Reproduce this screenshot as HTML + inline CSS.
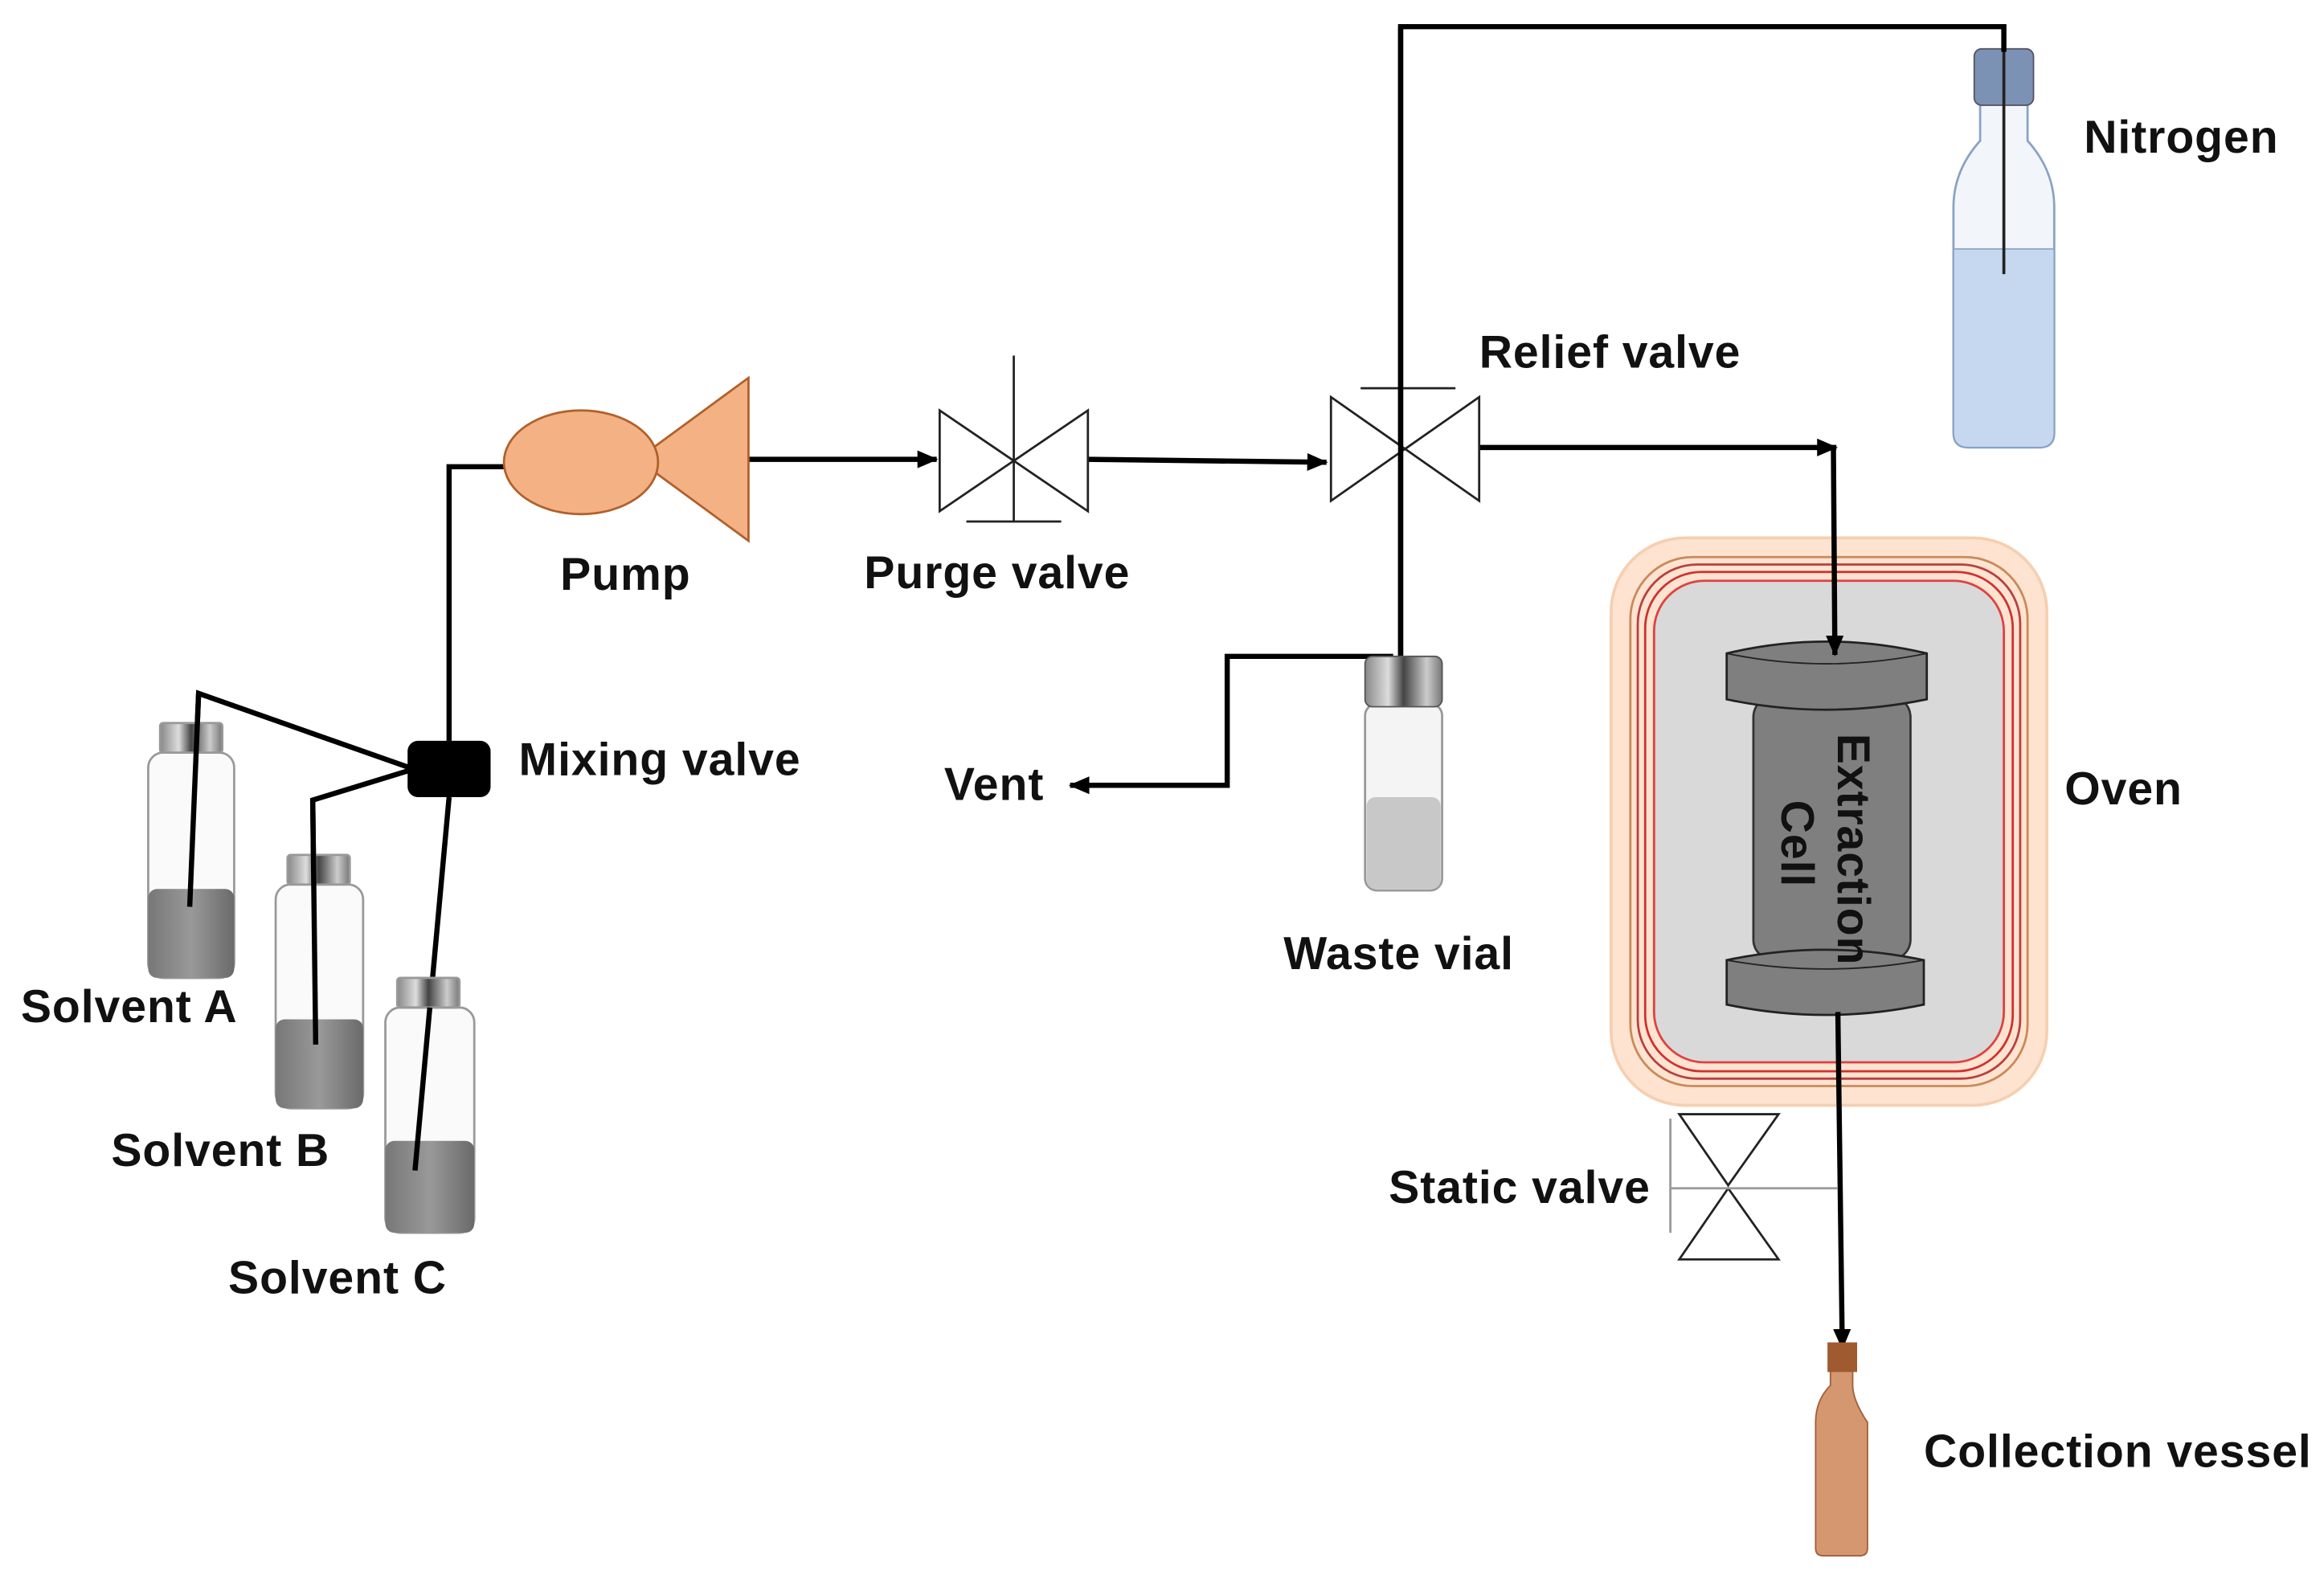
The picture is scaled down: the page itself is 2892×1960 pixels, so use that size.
<!DOCTYPE html>
<html><head><meta charset="utf-8"><style>
html,body{margin:0;padding:0;background:#fff}
svg{display:block}
text{font-family:"Liberation Sans",sans-serif;font-weight:bold;font-size:31px;letter-spacing:0.5px;fill:#111}
</style></head><body>
<svg width="2892" height="1960" viewBox="0 0 1568 1063" preserveAspectRatio="none" xmlns="http://www.w3.org/2000/svg">
<defs>
<marker id="ar" markerWidth="14" markerHeight="12" refX="13" refY="6" orient="auto" markerUnits="userSpaceOnUse">
<path d="M0,0 L14,6 L0,12 z" fill="#000"/></marker>
<linearGradient id="liq" x1="0" x2="1"><stop offset="0" stop-color="#777"/><stop offset="0.5" stop-color="#999"/><stop offset="1" stop-color="#6a6a6a"/></linearGradient>
<linearGradient id="cap" x1="0" x2="1"><stop offset="0" stop-color="#888"/><stop offset="0.3" stop-color="#ddd"/><stop offset="0.5" stop-color="#444"/><stop offset="0.8" stop-color="#ccc"/><stop offset="1" stop-color="#777"/></linearGradient>
</defs>
<rect width="1568" height="1063" fill="#fff"/>

<!-- Oven -->
<rect x="1087" y="363" width="294" height="383" rx="50" fill="#fde3d0" stroke="#f6cfb0" stroke-width="2"/>
<rect x="1100" y="376" width="268" height="357" rx="42" fill="none" stroke="#c98a5a" stroke-width="1.5"/>
<rect x="1105" y="381" width="258" height="347" rx="40" fill="none" stroke="#b84040" stroke-width="1.5"/>
<rect x="1110" y="386" width="248" height="337" rx="38" fill="none" stroke="#d03030" stroke-width="1.5"/>
<rect x="1116" y="392" width="236" height="325" rx="34" fill="#d9d9d9" stroke="#e04040" stroke-width="1.5"/>

<!-- Extraction cell -->
<rect x="1183" y="470" width="106" height="178" rx="14" fill="#7f7f7f" stroke="#333" stroke-width="1.5"/>
<path d="M1165,441 Q1232,425 1300,441 L1300,472 Q1232,486 1165,472 Z" fill="#7f7f7f" stroke="#222" stroke-width="1.5"/>
<path d="M1165,441 Q1232,455 1300,441" fill="none" stroke="#222" stroke-width="1"/>
<path d="M1165,648 Q1232,634 1298,648 L1298,678 Q1232,692 1165,678 Z" fill="#7f7f7f" stroke="#222" stroke-width="1.5"/>
<path d="M1165,648 Q1232,660 1298,648" fill="none" stroke="#222" stroke-width="1"/>
<text transform="translate(1240,495) rotate(90)" font-size="29" letter-spacing="0">Extraction</text>
<text transform="translate(1202,540) rotate(90)" font-size="29" letter-spacing="0">Cell</text>

<!-- Nitrogen bottle -->
<path d="M1336,70 L1336,95 Q1318,115 1318,140 L1318,292 Q1318,302 1328,302 L1376,302 Q1386,302 1386,292 L1386,140 Q1386,115 1368,95 L1368,70 Z" fill="#f2f6fb" stroke="#8aa3c4" stroke-width="1.5"/>
<path d="M1318,168 L1386,168 L1386,292 Q1386,302 1376,302 L1328,302 Q1318,302 1318,292 Z" fill="#c6d8ef" stroke="#8aa3c4" stroke-width="1"/>
<rect x="1332" y="33" width="40" height="38" rx="5" fill="#7c92b4" stroke="#556" stroke-width="1"/>
<line x1="1352" y1="35" x2="1352" y2="185" stroke="#222" stroke-width="2"/>

<!-- connectors -->
<g stroke="#000" stroke-width="3.5" fill="none">
<polyline points="945,443 945,18 1352,18 1352,35"/>
<polyline points="340,315 303,315 303,500"/>
<line x1="505" y1="310" x2="632" y2="310" marker-end="url(#ar)"/>
<line x1="734" y1="310" x2="895" y2="312" marker-end="url(#ar)"/>
<line x1="998" y1="302" x2="1239" y2="302" marker-end="url(#ar)"/>
<line x1="1237" y1="302" x2="1238" y2="442" marker-end="url(#ar)"/>
<line x1="1240" y1="683" x2="1243" y2="910" marker-end="url(#ar)"/>
<polyline points="940,443 828,443 828,530 722,530" marker-end="url(#ar)"/>
<polyline points="128,612 134,468 276,518"/>
<polyline points="213,705 211,540 276,520"/>
<line x1="280" y1="790" x2="303" y2="538"/>
</g>

<!-- Pump -->
<polygon points="430,310 505,255 505,365" fill="#f4b183" stroke="#b0602c" stroke-width="1.5"/>
<ellipse cx="392" cy="312" rx="52" ry="35" fill="#f4b183" stroke="#b0602c" stroke-width="1.5"/>

<!-- Mixing valve -->
<rect x="275" y="500" width="56" height="38" rx="7" fill="#000"/>

<g stroke="#222" stroke-width="1.5" fill="#fff">
<polygon points="634,277 684,311 634,345"/>
<polygon points="734,277 684,311 734,345"/>
<line x1="684" y1="240" x2="684" y2="352"/>
<line x1="652" y1="352" x2="716" y2="352"/>
<polygon points="898,268 948,303 898,338"/>
<polygon points="998,268 948,303 998,338"/>
<line x1="918" y1="262" x2="982" y2="262"/>
<polygon points="1133,752 1200,752 1166,800"/>
<polygon points="1133,850 1200,850 1166,802"/>
<line x1="1127" y1="755" x2="1127" y2="832" stroke="#999"/>
<line x1="1127" y1="802" x2="1240" y2="802" stroke="#999"/>
</g>
<line x1="945" y1="18" x2="945" y2="443" stroke="#000" stroke-width="3.5"/>

<!-- Waste vial -->
<rect x="921" y="475" width="52" height="126" rx="8" fill="#f4f4f4" stroke="#999" stroke-width="1.5"/>
<rect x="922" y="538" width="50" height="62" rx="6" fill="#c8c8c8"/>
<rect x="921" y="443" width="52" height="34" rx="5" fill="url(#cap)" stroke="#555"/>

<!-- Solvent bottles -->
<g stroke="#999" stroke-width="1.5">
<rect x="100" y="508" width="58" height="152" rx="10" fill="#fafafa"/>
<rect x="100" y="600" width="58" height="60" rx="6" fill="url(#liq)" stroke="none"/>
<rect x="108" y="488" width="42" height="20" rx="2" fill="url(#cap)"/>
<rect x="186" y="597" width="59" height="151" rx="10" fill="#fafafa"/>
<rect x="186" y="688" width="59" height="60" rx="6" fill="url(#liq)" stroke="none"/>
<rect x="194" y="577" width="42" height="20" rx="2" fill="url(#cap)"/>
<rect x="260" y="680" width="60" height="152" rx="10" fill="#fafafa"/>
<rect x="260" y="770" width="60" height="62" rx="6" fill="url(#liq)" stroke="none"/>
<rect x="268" y="660" width="42" height="20" rx="2" fill="url(#cap)"/>
</g>
<g stroke="#000" stroke-width="3.5" fill="none">
<polyline points="128,612 134,468"/><polyline points="213,705 211,540"/><line x1="280" y1="790" x2="290" y2="680"/>
</g>

<!-- Collection vessel -->
<path d="M1235,925 L1235,935 Q1225,945 1225,960 L1225,1045 Q1225,1050 1230,1050 L1255,1050 Q1260,1050 1260,1045 L1260,960 Q1250,945 1250,935 L1250,925 Z" fill="#d59770" stroke="#a0603a" stroke-width="1"/>
<rect x="1233" y="906" width="20" height="20" fill="#a05a30"/>

<!-- Labels -->
<text x="14" y="690">Solvent A</text>
<text x="75" y="787">Solvent B</text>
<text x="154" y="873">Solvent C</text>
<text x="350" y="523">Mixing valve</text>
<text x="378" y="398">Pump</text>
<text x="583" y="397">Purge valve</text>
<text x="637" y="540">Vent</text>
<text x="866" y="654">Waste vial</text>
<text x="998" y="248">Relief valve</text>
<text x="1406" y="103">Nitrogen</text>
<text x="1393" y="543">Oven</text>
<text x="937" y="812">Static valve</text>
<text x="1298" y="990">Collection vessel</text>
</svg>
</body></html>
